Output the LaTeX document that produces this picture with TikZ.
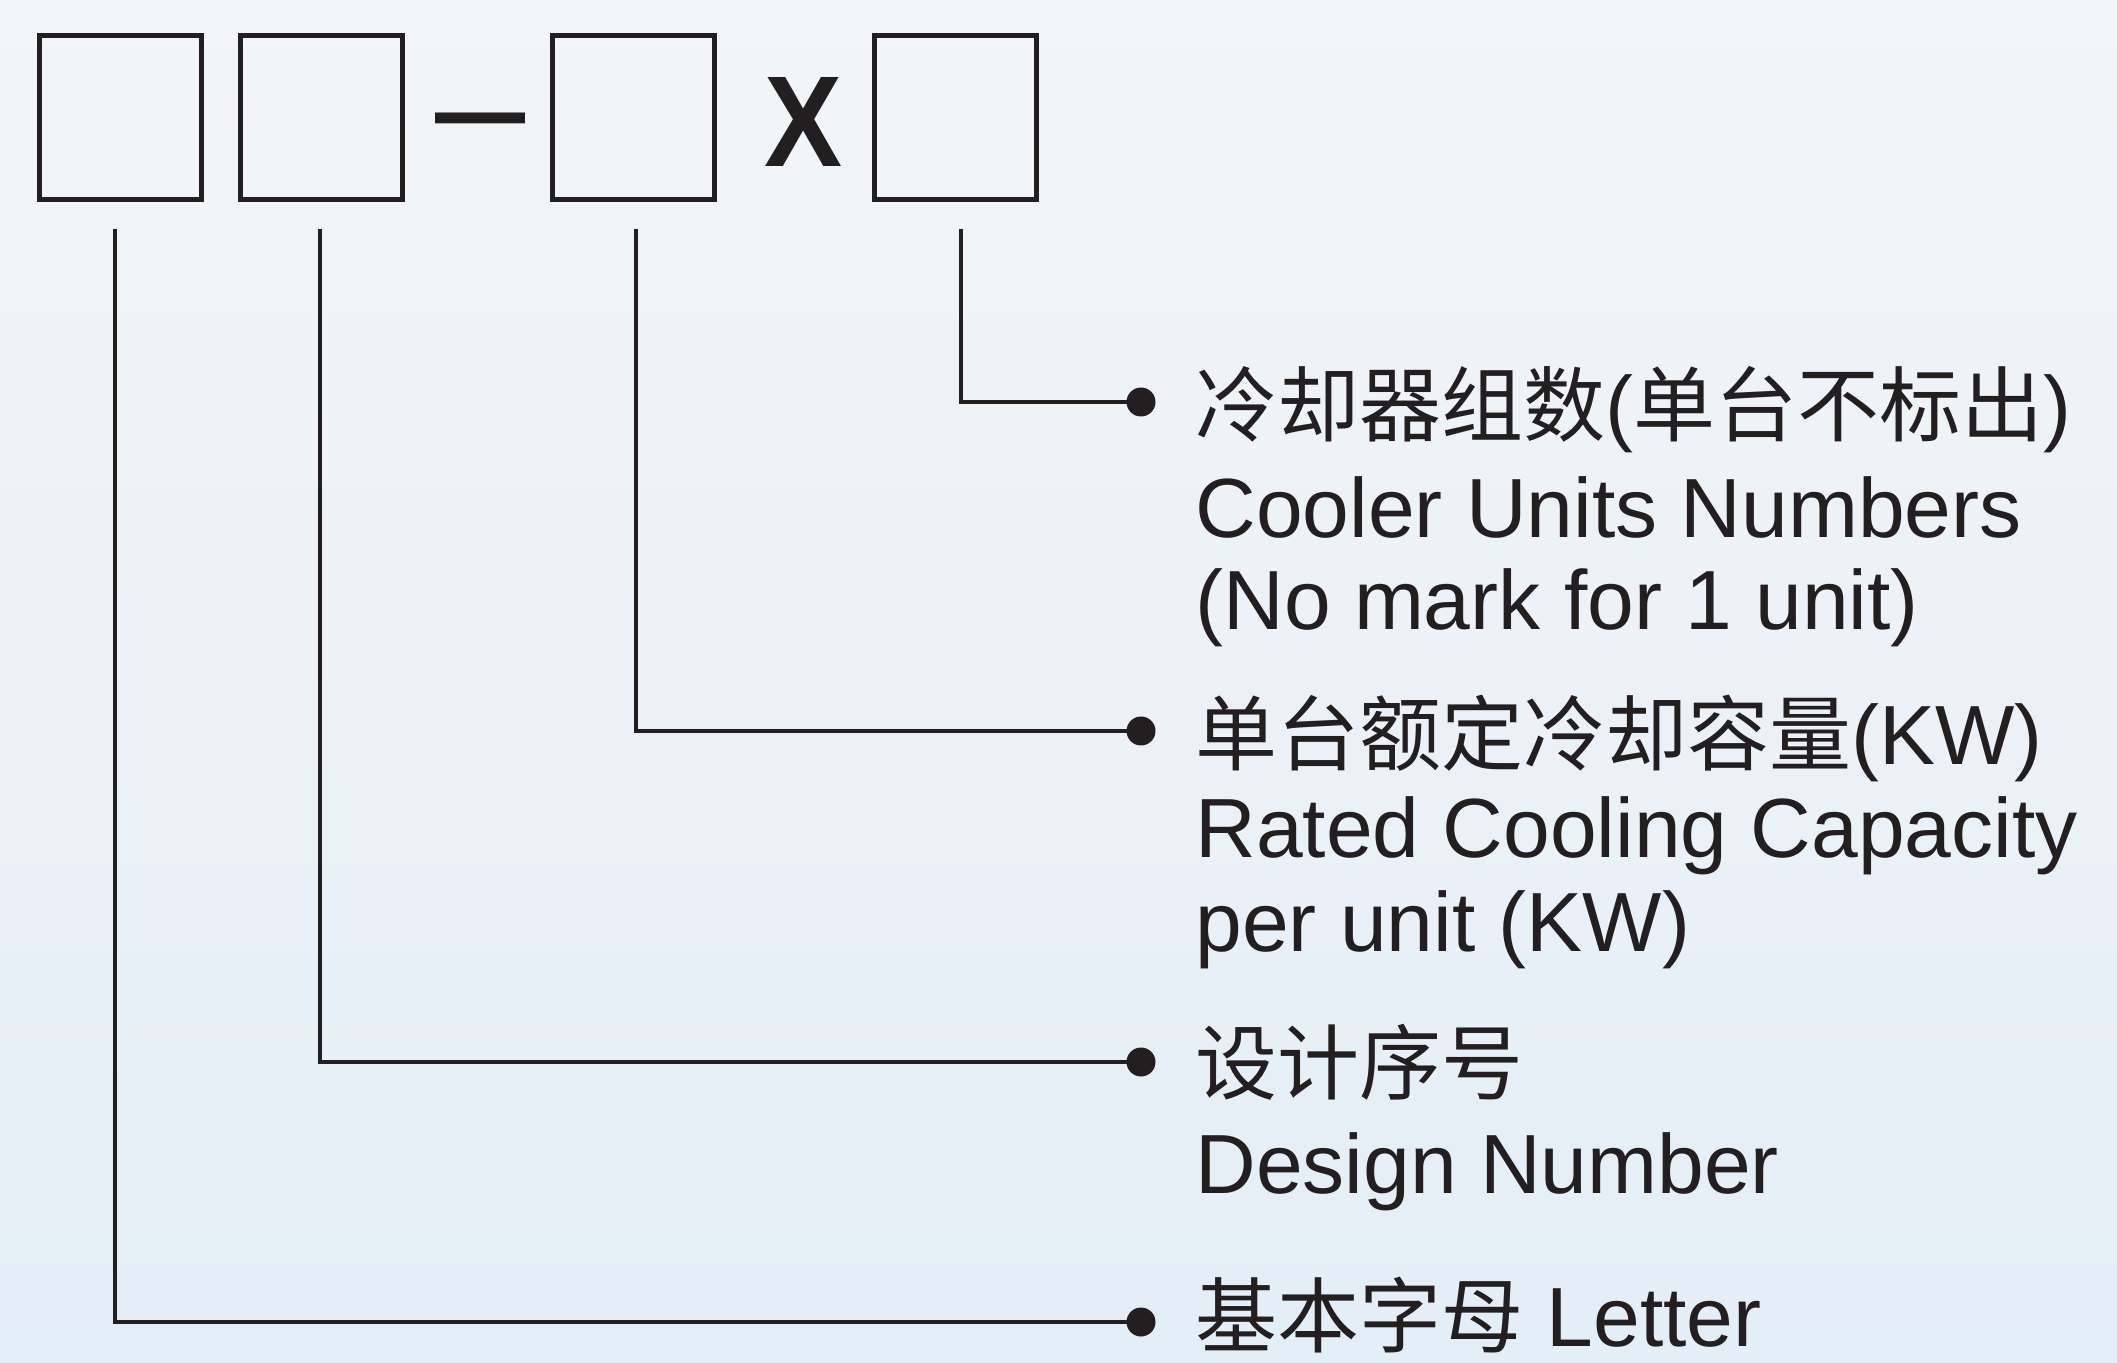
\documentclass[tikz,border=0pt]{standalone}
\usepackage{fontspec}
\setmainfont{Liberation Sans}
\newfontfamily\cjk{Noto Sans CJK SC}
\definecolor{ink}{HTML}{231F20}
\definecolor{bgtop}{HTML}{F3F5F8}
\definecolor{bgbot}{HTML}{E4EEF6}
\newcommand{\zh}[1]{{\cjk\fontsize{41pt}{48pt}\selectfont #1}}
\tikzset{
  codebox/.style={draw=ink, line width=2.5pt, minimum width=81pt, minimum height=82pt, inner sep=0pt},
  conn/.style={draw=ink, line width=2.2pt},
  dotnode/.style={circle, fill=ink, minimum size=14.5pt, inner sep=0pt},
  lbl/.style={anchor=base west, inner sep=0pt, text=ink, font=\fontsize{42pt}{50pt}\selectfont},
  sym/.style={inner sep=0pt, text=ink}
}
\begin{document}
\begin{tikzpicture}[x=0.5pt,y=-0.5pt]
\shade[top color=bgtop, bottom color=bgbot] (0,0) rectangle (2117,1363);
\useasboundingbox (0,0) rectangle (2117,1363);
% code boxes
\node[codebox] (b1) at (120,117.5) {};
\node[codebox] (b2) at (321,117.5) {};
\node[codebox] (b3) at (633,117.5) {};
\node[codebox] (b4) at (955.5,117.5) {};
\node[sym, font=\fontsize{81pt}{81pt}\selectfont] (dash) at (481,136) {\raisebox{-0.25em}{–}};
\node[sym] (xs) at (803.5,122.5) {\resizebox{39pt}{44.5pt}{\bfseries X}};
% connector starts
\coordinate (s1) at (115,229);
\coordinate (s2) at (320,229);
\coordinate (s3) at (636,229);
\coordinate (s4) at (961,229);
% dots
\node[dotnode] (d4) at (1141,402) {};
\node[dotnode] (d3) at (1141,731) {};
\node[dotnode] (d2) at (1141,1062) {};
\node[dotnode] (d1) at (1141,1322) {};
\draw[conn] (s4) |- (d4.center);
\draw[conn] (s3) |- (d3.center);
\draw[conn] (s2) |- (d2.center);
\draw[conn] (s1) |- (d1.center);
% labels
\node[lbl] (t1a) at (1195,436) {\zh{冷却器组数}(\zh{单台不标出})};
\node[lbl] (t1b) at (1195,538) {Cooler Units Numbers};
\node[lbl] (t1c) at (1195,630) {(No mark for 1 unit)};
\node[lbl] (t2a) at (1195,765) {\zh{单台额定冷却容量}(KW)};
\node[lbl] (t2b) at (1195,858) {Rated Cooling Capacity};
\node[lbl] (t2c) at (1195,951) {per unit (KW)};
\node[lbl] (t3a) at (1195,1093) {\zh{设计序号}};
\node[lbl] (t3b) at (1195,1193) {Design Number};
\node[lbl] (t4) at (1195,1346) {\zh{基本字母} Letter};
\end{tikzpicture}
\end{document}
